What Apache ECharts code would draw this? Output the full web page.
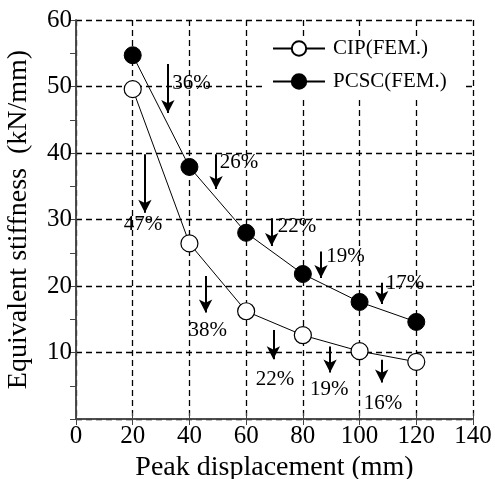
<!DOCTYPE html>
<html>
<head>
<meta charset="utf-8">
<script src="https://cdn.jsdelivr.net/npm/echarts@6/dist/echarts.min.js"></script>
<style>
html,body{margin:0;padding:0;background:#fff;}
#chart{width:495px;height:479px;}
</style>
</head>
<body>
<div id="chart"></div>
<script>
// ---- data ----
var displacement = [20, 40, 60, 80, 100, 120];
var cipStiffness = [49.6, 26.4, 16.2, 12.6, 10.2, 8.6];
var pcscStiffness = [54.7, 37.9, 28.0, 21.8, 17.6, 14.6];

// arrows: [x, yTop, yBottom]
var pcscArrows = [[32.4, 53.4, 46.0], [49.4, 39.8, 34.6], [69.0, 30.2, 26.0], [86.4, 25.2, 21.2], [107.8, 20.5, 17.3]];
var cipArrows = [[24.3, 39.8, 31.0], [45.7, 21.5, 16.0], [69.6, 13.4, 9.0], [89.6, 10.9, 7.0], [107.8, 8.9, 5.5]];
// labels: [x, y, text]
var pcscLabels = [[40.7, 50.5, '36%'], [57.5, 38.6, '26%'], [77.9, 28.9, '22%'], [95.0, 24.4, '19%'], [116.0, 20.4, '17%']];
var cipLabels = [[23.6, 29.2, '47%'], [46.5, 13.3, '38%'], [70.2, 5.9, '22%'], [89.3, 4.4, '19%'], [108.3, 2.3, '16%']];

var xTicks = [0, 20, 40, 60, 80, 100, 120, 140];
var yTicks = [0, 10, 20, 30, 40, 50, 60];

var FONT = 'Liberation Serif';

function pairs(xs, ys) { return xs.map(function (x, i) { return [x, ys[i]]; }); }
function arrowLines(arr) {
  return arr.map(function (a) { return [{ coord: [a[0], a[1]] }, { coord: [a[0], a[2]] }]; });
}
var allArrows = pcscArrows.concat(cipArrows);
var allLabels = pcscLabels.concat(cipLabels);

var chart = echarts.init(document.getElementById('chart'), null, { renderer: 'canvas' });
var axisLineStyle = { color: '#444', width: 1.5 };
var option = {
  animation: false,
  backgroundColor: '#fff',
  textStyle: { fontFamily: FONT, color: '#000' },
  grid: { left: 76, right: 22, top: 20, bottom: 60, containLabel: false, outerBoundsMode: 'none' },
  legend: {
    data: ['CIP(FEM.)', 'PCSC(FEM.)'],
    orient: 'vertical',
    left: 266, top: 36,
    padding: [2, 18, 4, 6],
    backgroundColor: '#fff',
    itemWidth: 52, itemHeight: 18, itemGap: 12,
    textStyle: { fontFamily: FONT, fontSize: 21, color: '#000', padding: [0, 0, 0, 3] }
  },
  xAxis: [{
    type: 'value', min: xTicks[0], max: xTicks[xTicks.length - 1], interval: 20,
    name: 'Peak displacement (mm)', nameLocation: 'middle', nameGap: 35,
    nameTextStyle: { fontFamily: FONT, fontSize: 28, color: '#000' },
    axisLine: { show: true, lineStyle: axisLineStyle },
    axisTick: { show: true, inside: true, length: 6, lineStyle: { color: '#444' } },
    axisLabel: { fontFamily: FONT, fontSize: 25, color: '#000', margin: 5 },
    splitLine: { show: true, lineStyle: { color: '#000', type: [6, 4], width: 1.3 } }
  }, {
    type: 'value', position: 'top', min: xTicks[0], max: xTicks[xTicks.length - 1], interval: 20,
    axisLine: { show: true, lineStyle: axisLineStyle },
    axisTick: { show: true, inside: true, length: 6, lineStyle: { color: '#444' } },
    axisLabel: { show: false }, splitLine: { show: false }
  }],
  yAxis: [{
    type: 'value', min: yTicks[0], max: yTicks[yTicks.length - 1], interval: 10,
    name: 'Equivalent stiffness  (kN/mm)', nameLocation: 'middle', nameGap: 43,
    nameTextStyle: { fontFamily: FONT, fontSize: 28, color: '#000' },
    axisLine: { show: true, lineStyle: axisLineStyle },
    axisTick: { show: false },
    minorTick: { show: true, splitNumber: 2, length: 6, lineStyle: { color: '#444' } },
    axisLabel: { fontFamily: FONT, fontSize: 25, color: '#000', margin: 4,
      formatter: function (v) { return v === 0 ? '' : v; } },
    splitLine: { show: true, lineStyle: { color: '#000', type: [6, 4], width: 1.3 } }
  }, {
    type: 'value', position: 'right', min: 0, max: 60, interval: 5,
    axisLine: { show: true, lineStyle: axisLineStyle },
    axisTick: { show: true, inside: true, length: 6, lineStyle: { color: '#444' } },
    axisLabel: { show: false }, splitLine: { show: false }
  }],
  series: [{
    name: 'CIP(FEM.)', type: 'line', data: pairs(displacement, cipStiffness),
    symbol: 'circle', symbolSize: 17, z: 5,
    lineStyle: { color: '#000', width: 1 },
    itemStyle: { color: '#fff', borderColor: '#000', borderWidth: 1.2 }
  }, {
    name: 'PCSC(FEM.)', type: 'line', data: pairs(displacement, pcscStiffness),
    symbol: 'circle', symbolSize: 17, z: 5,
    lineStyle: { color: '#000', width: 1 },
    itemStyle: { color: '#000', borderColor: '#000', borderWidth: 1 }
  }, {
    name: 'annotations', type: 'scatter', data: allLabels.map(function (l) { return [l[0], l[1], l[2]]; }),
    symbol: 'circle', symbolSize: 0, itemStyle: { color: '#000' }, silent: true,
    label: { show: true, position: 'inside', fontFamily: FONT, fontSize: 21, color: '#000',
      textBorderWidth: 0, opacity: 1,
      formatter: function (p) { return p.data[2]; } },
    markLine: {
      silent: true, symbol: ['none', 'arrow'], symbolSize: [10, 13],
      lineStyle: { color: '#000', width: 2, type: 'solid' },
      label: { show: false },
      data: arrowLines(allArrows)
    }
  }]
};
chart.setOption(option);
</script>
</body>
</html>
